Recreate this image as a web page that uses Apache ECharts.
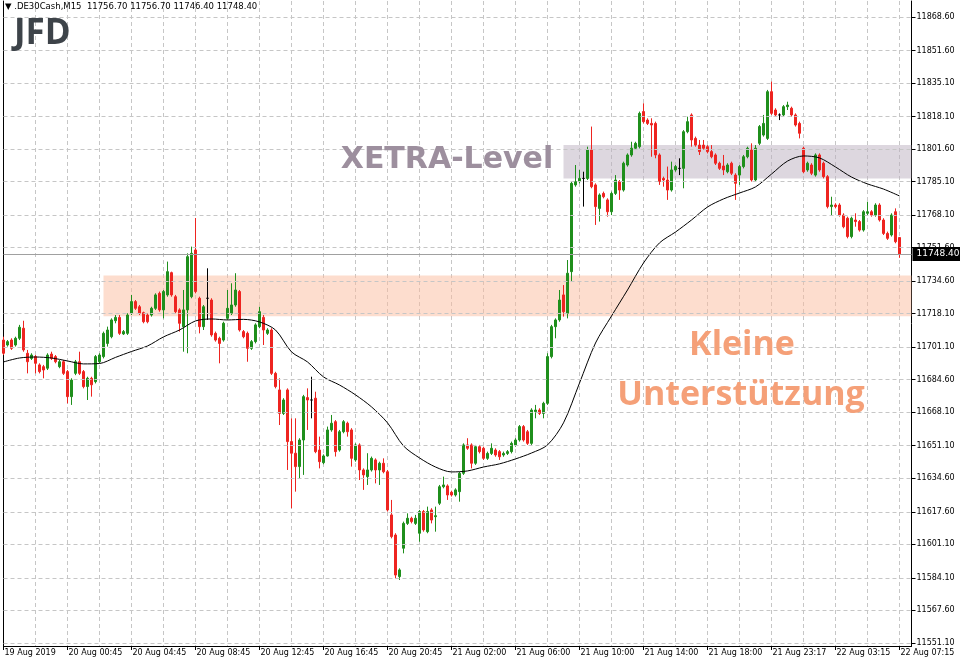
<!DOCTYPE html>
<html><head><meta charset="utf-8">
<script src="https://cdn.jsdelivr.net/npm/echarts@6/dist/echarts.min.js"></script>
<style>html,body{margin:0;padding:0;background:#fff}#c{width:960px;height:659px}</style>
</head><body><div id="c"></div>
<script>
// ---- data (.DE30Cash, M15) ----
const timeLabels = ["19 Aug 2019","20 Aug 00:45","20 Aug 04:45","20 Aug 08:45","20 Aug 12:45","20 Aug 16:45","20 Aug 20:45","21 Aug 02:00","21 Aug 06:00","21 Aug 10:00","21 Aug 14:00","21 Aug 18:00","21 Aug 23:17","22 Aug 03:15","22 Aug 07:15"];
const priceTicks = [11868.60,11851.60,11835.10,11818.10,11801.60,11785.10,11768.10,11751.60,11734.60,11718.10,11701.10,11684.60,11668.10,11651.10,11634.60,11617.60,11601.10,11584.10,11567.60,11551.10];

const opens = [11704.7,11702.2,11704.7,11702.2,11705.6,11710.7,11698.0,11695.4,11696.3,11692.1,11691.2,11690.4,11697.6,11696.3,11691.2,11693.7,11688.7,11676.0,11687.8,11693.7,
11688.7,11681.1,11685.3,11683.6,11693.7,11696.3,11703.0,11706.4,11714.5,11716.2,11707.8,11708.1,11718.3,11724.2,11721.6,11718.6,11717.4,11717.4,11720.8,11728.4,
11720.0,11727.6,11738.9,11726.7,11720.0,11711.5,11720.0,11726.7,11750.4,11725.9,11711.5,11725.9,11725.0,11708.1,11705.6,11704.7,11715.7,11718.3,11722.5,11729.3,
11709.0,11708.1,11700.5,11703.9,11711.5,11716.2,11708.1,11709.8,11687.8,11679.4,11667.5,11679.4,11653.2,11647.3,11640.5,11654.0,11675.5,11674.3,11675.2,11648.9,
11642.5,11645.9,11659.1,11663.3,11648.9,11658.2,11662.5,11659.1,11643.9,11651.5,11638.8,11635.4,11638.8,11643.9,11638.8,11642.2,11637.9,11616.0,11605.8,11584.7,
11599.1,11611.7,11614.3,11611.7,11606.7,11617.7,11607.5,11618.5,11615.1,11621.9,11630.3,11630.7,11627.5,11626.1,11627.8,11637.1,11651.5,11651.5,11642.2,11650.6,
11649.8,11644.7,11647.2,11648.9,11648.1,11646.4,11647.2,11648.1,11651.5,11654.0,11660.8,11658.2,11652.3,11668.4,11669.2,11667.5,11672.6,11696.3,11711.5,11714.9,
11727.6,11718.3,11739.4,11783.4,11785.1,11786.7,11786.7,11801.1,11783.4,11771.5,11779.1,11775.8,11769.8,11779.1,11785.1,11780.8,11793.5,11798.6,11802.0,11802.8,
11820.6,11816.3,11814.6,11814.6,11798.6,11786.7,11785.9,11780.8,11791.0,11791.8,11791.8,11810.4,11818.9,11807.0,11803.6,11803.6,11802.8,11800.3,11798.6,11794.4,
11793.0,11790.1,11794.4,11788.4,11788.4,11792.7,11797.7,11801.1,11785.9,11804.5,11808.7,11807.0,11830.7,11821.4,11818.9,11818.9,11823.1,11822.3,11818.9,11814.6,
11802.0,11791.0,11793.5,11788.4,11798.6,11794.4,11787.6,11772.4,11773.2,11773.2,11768.1,11766.5,11757.2,11765.6,11764.8,11760.5,11769.0,11769.8,11768.1,11773.2,
11765.6,11758.8,11758.0,11769.8,11756.7];

const closes = [11698.0,11703.9,11700.5,11705.6,11711.2,11699.7,11693.7,11697.1,11692.9,11688.7,11689.5,11697.1,11695.4,11693.7,11693.7,11687.8,11676.0,11684.4,11693.7,11687.8,
11681.1,11685.3,11682.0,11696.3,11697.1,11708.1,11709.8,11714.9,11716.2,11708.1,11709.0,11717.4,11724.2,11720.8,11718.3,11714.0,11714.0,11720.8,11727.6,11720.0,
11729.3,11739.4,11727.6,11719.1,11713.2,11720.0,11747.0,11748.7,11729.3,11711.5,11721.6,11725.9,11707.3,11704.7,11703.0,11713.2,11720.8,11722.5,11730.1,11709.8,
11706.4,11700.5,11703.9,11712.4,11719.1,11709.8,11709.8,11687.8,11681.1,11667.5,11674.3,11653.2,11647.3,11640.5,11654.0,11676.0,11674.3,11674.3,11648.1,11643.0,
11645.9,11659.1,11662.5,11648.1,11658.2,11663.3,11658.2,11644.7,11651.5,11638.8,11636.3,11638.8,11644.7,11638.8,11642.2,11637.9,11618.5,11605.0,11585.5,11588.1,
11611.7,11614.3,11612.6,11614.3,11617.7,11608.4,11617.7,11613.4,11615.6,11630.3,11631.2,11626.1,11626.1,11628.7,11637.1,11651.5,11649.8,11642.2,11650.6,11648.1,
11644.7,11647.2,11649.8,11646.4,11645.5,11647.2,11648.1,11652.3,11654.0,11660.8,11654.0,11652.3,11669.2,11669.2,11667.5,11672.6,11696.3,11711.5,11714.9,11725.0,
11719.1,11738.6,11784.2,11785.1,11786.7,11786.7,11801.1,11782.5,11772.4,11778.3,11777.4,11769.8,11779.1,11785.9,11780.8,11794.4,11798.6,11802.0,11804.5,11819.7,
11815.5,11814.6,11813.8,11798.6,11785.1,11785.9,11780.8,11791.0,11792.7,11791.8,11810.4,11815.5,11806.2,11803.6,11800.3,11802.0,11800.3,11797.7,11794.4,11791.8,
11791.0,11793.5,11789.3,11784.2,11792.7,11797.7,11802.0,11785.9,11802.0,11813.0,11814.6,11830.7,11819.7,11818.9,11818.9,11823.1,11823.9,11818.9,11813.8,11809.6,
11790.1,11794.4,11789.3,11798.6,11791.0,11787.6,11772.4,11773.2,11772.4,11768.1,11762.2,11757.2,11766.5,11764.8,11760.5,11769.8,11769.8,11768.1,11773.2,11765.6,
11758.8,11756.3,11768.1,11754.6,11748.4];

const lows = [11697.1,11701.4,11699.7,11701.4,11704.7,11698.8,11687.8,11694.6,11687.8,11687.8,11685.3,11689.5,11694.6,11692.9,11690.4,11687.0,11672.6,11671.8,11686.9,11687.0,
11680.2,11674.3,11676.0,11682.7,11692.9,11695.4,11701.4,11705.6,11713.2,11707.3,11707.3,11707.3,11717.4,11720.0,11717.4,11713.2,11713.2,11716.6,11720.0,11719.1,
11715.7,11726.7,11726.7,11718.3,11709.0,11698.8,11698.0,11725.9,11728.4,11708.1,11709.8,11714.9,11706.4,11703.9,11692.9,11703.9,11715.0,11717.4,11721.6,11709.0,
11705.6,11693.7,11699.7,11703.0,11710.7,11702.2,11707.3,11687.0,11680.2,11661.6,11666.7,11638.8,11619.4,11627.8,11634.6,11636.3,11659.1,11665.0,11647.3,11639.6,
11641.7,11645.6,11658.2,11645.6,11648.1,11657.4,11655.7,11640.5,11643.0,11633.7,11628.7,11631.2,11638.0,11632.0,11631.2,11637.1,11617.7,11604.1,11583.8,11583.0,
11596.5,11610.9,11611.7,11610.9,11602.4,11607.5,11606.7,11611.7,11607.5,11621.0,11629.5,11623.6,11625.3,11625.3,11622.7,11636.3,11649.0,11639.6,11641.4,11647.2,
11643.9,11643.9,11646.4,11645.5,11643.9,11645.5,11646.4,11647.2,11650.6,11653.2,11653.2,11651.5,11651.5,11665.0,11666.7,11665.0,11671.8,11695.4,11705.6,11714.0,
11716.6,11715.7,11734.3,11782.5,11784.2,11772.4,11785.9,11781.7,11763.1,11764.8,11776.6,11767.3,11768.1,11778.3,11775.8,11780.0,11792.7,11797.7,11801.1,11801.9,
11814.6,11813.8,11797.7,11796.9,11783.4,11782.5,11775.8,11780.0,11790.1,11788.4,11781.7,11809.6,11802.8,11802.8,11798.6,11801.1,11799.4,11796.9,11793.5,11791.0,
11788.4,11789.3,11788.4,11775.8,11783.4,11791.8,11796.9,11785.1,11785.1,11803.6,11807.9,11806.2,11818.9,11818.0,11816.3,11818.0,11821.4,11818.0,11813.0,11807.0,
11789.3,11790.1,11788.4,11787.6,11790.1,11786.7,11771.5,11768.1,11771.5,11767.3,11761.4,11756.3,11756.3,11762.2,11759.7,11759.7,11768.1,11767.3,11767.3,11764.8,
11758.0,11755.5,11757.2,11753.8,11746.4];

const highs = [11706.4,11704.7,11705.6,11706.4,11712.4,11714.5,11699.7,11698.0,11697.1,11692.9,11692.1,11698.0,11698.8,11697.1,11694.6,11694.6,11689.5,11685.3,11694.6,11698.8,
11689.5,11686.1,11686.1,11697.1,11698.0,11709.0,11711.5,11715.7,11717.4,11717.4,11709.8,11718.3,11727.6,11725.0,11722.5,11719.1,11718.3,11721.6,11728.4,11729.3,
11730.1,11744.5,11739.4,11727.6,11720.8,11730.1,11748.7,11752.1,11766.6,11726.7,11722.5,11741.1,11725.9,11709.0,11706.4,11714.0,11730.1,11733.5,11738.6,11730.1,
11709.8,11709.0,11704.7,11713.2,11721.6,11717.4,11710.7,11710.7,11688.6,11685.3,11675.2,11680.2,11665.0,11665.0,11654.9,11676.9,11680.2,11686.1,11678.5,11655.7,
11646.7,11660.8,11666.7,11664.1,11659.1,11664.1,11663.3,11660.0,11652.3,11652.3,11639.6,11647.3,11645.6,11644.7,11643.0,11644.7,11638.8,11623.6,11606.7,11588.9,
11612.6,11616.8,11615.1,11616.0,11618.5,11618.5,11620.2,11619.4,11620.2,11631.2,11635.4,11631.5,11628.3,11629.5,11637.9,11652.3,11654.9,11652.3,11651.5,11651.5,
11650.6,11648.1,11652.3,11649.8,11648.9,11648.1,11648.9,11653.2,11654.9,11661.6,11661.6,11659.1,11670.1,11671.8,11670.1,11673.4,11698.0,11712.4,11715.7,11730.1,
11732.6,11745.3,11785.1,11793.5,11791.0,11790.1,11802.8,11813.0,11784.2,11779.1,11780.0,11776.6,11780.0,11788.4,11785.9,11795.2,11799.4,11805.3,11805.3,11820.6,
11824.8,11817.2,11817.2,11815.5,11799.4,11787.6,11792.7,11795.2,11793.5,11796.9,11811.2,11818.0,11819.7,11807.9,11806.2,11806.2,11803.6,11803.6,11799.4,11795.2,
11798.6,11794.4,11795.2,11789.3,11793.5,11798.6,11802.8,11804.5,11803.6,11813.8,11818.9,11831.6,11835.8,11822.3,11819.7,11823.9,11825.6,11823.1,11819.7,11815.5,
11802.8,11795.2,11794.4,11799.4,11799.4,11795.2,11788.4,11777.4,11774.1,11774.1,11769.0,11767.3,11767.3,11769.0,11765.6,11770.6,11774.9,11770.6,11774.1,11774.1,
11766.5,11759.7,11769.0,11771.5,11756.7];

// moving average, read every 4th bar
const maStep = 4;
const maValues = [11693.6,11695.6,11696.1,11695.6,11694.1,11692.6,11692.8,11695.9,11698.9,11701.7,11706.3,11709.8,11714.4,11715.4,11714.9,11715.2,11713.9,11709.8,11698.7,11693.6,
11686.0,11681.9,11676.9,11670.8,11662.7,11651.0,11644.9,11640.3,11637.8,11638.3,11640.3,11641.9,11644.4,11647.4,11651.5,11662.7,11682.9,11703.2,11716.9,11730.1,
11743.8,11754.0,11759.5,11765.6,11772.2,11776.3,11779.3,11782.4,11788.9,11795.5,11798.1,11797.1,11792.5,11787.4,11783.9,11781.3,11777.8];

const lastPrice = 11748.40;
const xetraZone = [11786.6, 11803.7];
const supportZone = [11716.8, 11737.5];
const xetraStartBar = 140;
const supportStartBar = 25;
const emptyBarsRight = 3;

// ---- build ----
const nCat = opens.length + emptyBarsRight;
const cats = Array.from({length: nCat}, (_, i) => String(i));
const candleData = opens.map((o, i) => [o, closes[i], lows[i], highs[i]]);
const maData = cats.map((_, i) => (i % maStep === 0 && maValues[i / maStep] !== undefined) ? maValues[i / maStep] : null);
const lastCat = String(nCat - 1);

const yMin = 11549.5, yMax = 11876.7;
const axisFont = 'DejaVu Sans';
const gridColor = '#c6c6c6';

const chart = echarts.init(document.getElementById('c'), null, {renderer: 'canvas'});
chart.setOption({
  animation: false,
  backgroundColor: '#ffffff',
  grid: {left: 3.5, right: 48.5, top: 1, bottom: 13, show: false},
  xAxis: {
    type: 'category', data: cats, boundaryGap: false,
    axisLine: {show: true, lineStyle: {color: '#000', width: 1}},
    axisTick: {show: true, length: 4, interval: (i) => i % 16 === 0 && i / 16 < timeLabels.length, lineStyle: {color: '#000'}},
    axisLabel: {
      show: true, interval: (i) => i % 16 === 0 && i / 16 < timeLabels.length,
      formatter: (v, i) => timeLabels[i / 16] || '',
      align: 'left', margin: 3, color: '#000', fontFamily: axisFont, fontSize: 8, padding: [0, 0, 0, 1]
    },
    splitLine: {show: true, interval: (i) => i % 8 === 0 && i > 0, lineStyle: {color: gridColor, type: [4, 3], width: 1}}
  },
  yAxis: [{
    type: 'value', position: 'right', min: yMin, max: yMax, scale: true,
    axisLine: {show: true, lineStyle: {color: '#000', width: 1}},
    axisTick: {show: true, length: 4, customValues: priceTicks, lineStyle: {color: '#000'}},
    axisLabel: {show: true, customValues: priceTicks, formatter: (v) => v.toFixed(2), color: '#000', fontFamily: axisFont, fontSize: 8, margin: 5},
    splitLine: {show: false}
  }, {
    type: 'value', position: 'left', min: yMin, max: yMax, scale: true,
    axisLine: {show: true, onZero: false, lineStyle: {color: '#000', width: 1}},
    axisTick: {show: false}, axisLabel: {show: false}, splitLine: {show: false}
  }],
  graphic: [
    {type: 'text', left: 5, top: 2, z: 100, style: {text: '\u25BC .DE30Cash,M15  11756.70 11756.70 11746.40 11748.40', fill: '#000', font: '8.5px "DejaVu Sans"'}},
    {type: 'text', x: 14, y: 34, z: 100, style: {text: 'JFD', fill: '#3d4349', font: 'bold 35px "Open Sans"', align: 'left', verticalAlign: 'middle'}},
    {type: 'text', x: 447, y: 160, z: 100, style: {text: 'XETRA-Level', fill: '#9d8f9e', font: 'bold 30px "DejaVu Sans"', align: 'center', verticalAlign: 'middle'}},
    {type: 'text', x: 742, y: 345, z: 100, style: {text: 'Kleine', fill: '#f5a078', font: 'bold 34px "Open Sans"', align: 'center', verticalAlign: 'middle'}},
    {type: 'text', x: 741, y: 395, z: 100, style: {text: 'Unterstützung', fill: '#f5a078', font: 'bold 34px "Open Sans"', align: 'center', verticalAlign: 'middle'}}
  ],
  series: [
    {
      name: 'grid', type: 'line', data: cats.map(() => null), z: 1, silent: true, symbol: 'none',
      markLine: {
        silent: true, symbol: 'none', animation: false,
        label: {show: false},
        lineStyle: {color: gridColor, type: [4, 3], width: 1},
        data: priceTicks.map(v => ({yAxis: v}))
      }
    },
    {
      name: 'DE30', type: 'candlestick', data: candleData, z: 2, barWidth: 2, clip: true,
      itemStyle: {color: '#1f8f1c', color0: '#ee2420', borderColor: '#1f8f1c', borderColor0: '#ee2420', borderColorDoji: '#000', borderWidth: 1}
    },
    {
      name: 'MA', type: 'line', data: maData, z: 3, connectNulls: true, smooth: 0.3, symbol: 'none', silent: true,
      lineStyle: {color: '#000', width: 1}
    },
    {
      name: 'zones', type: 'line', data: cats.map(() => null), z: 4, silent: true, symbol: 'none',
      markArea: {
        silent: true, label: {show: false},
        data: [
          [{xAxis: String(xetraStartBar), yAxis: xetraZone[1], itemStyle: {color: 'rgba(187,176,191,0.5)'}}, {xAxis: lastCat, yAxis: xetraZone[0]}],
          [{xAxis: String(supportStartBar), yAxis: supportZone[1], itemStyle: {color: 'rgba(251,188,158,0.5)'}}, {xAxis: lastCat, yAxis: supportZone[0]}]
        ]
      }
    },
    {
      name: 'last', type: 'line', data: cats.map(() => null), z: 5, silent: true, symbol: 'none',
      markLine: {
        silent: true, symbol: 'none', animation: false,
        lineStyle: {color: '#a0a0a0', type: 'solid', width: 1},
        label: {show: true, position: 'end', distance: 1, formatter: () => lastPrice.toFixed(2), color: '#fff', backgroundColor: '#000', padding: [3, 4, 2, 4], fontFamily: axisFont, fontSize: 9},
        data: [{yAxis: lastPrice}]
      }
    }
  ]
});
</script>
</body></html>
